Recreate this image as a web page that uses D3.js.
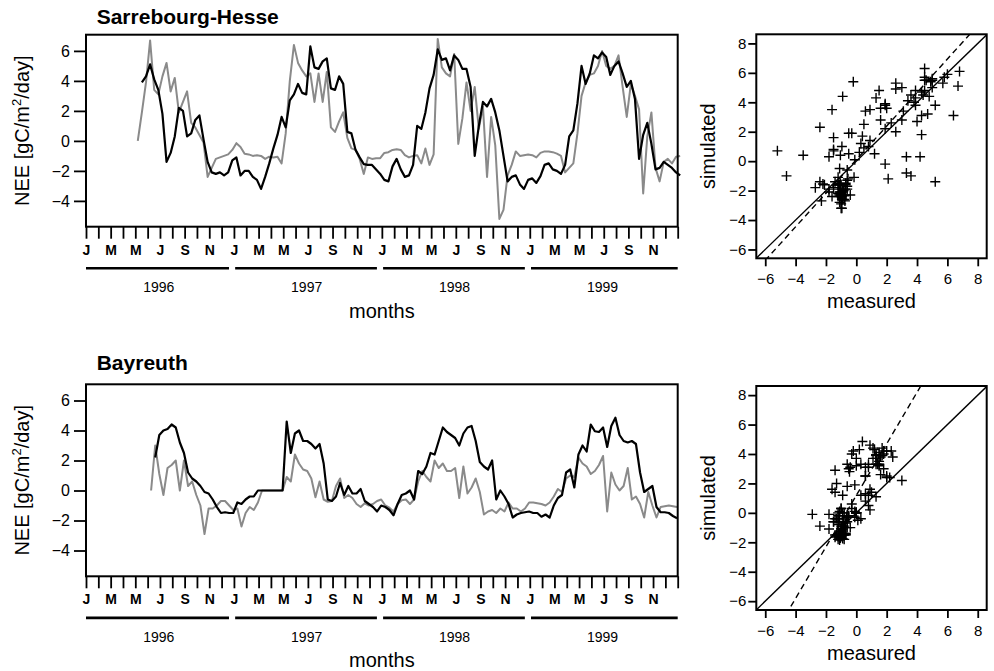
<!DOCTYPE html>
<html>
<head>
<meta charset="utf-8">
<script src="https://cdn.jsdelivr.net/npm/d3@7"></script>
<style>
  body { margin: 0; background: #fff; }
  text { font-family: "Liberation Sans", Arial, Helvetica, sans-serif; fill: #000; }
</style>
</head>
<body>
<svg id="chart" width="994" height="671"></svg>
<script>
// NEE series, one value every 1/3 month, months counted from Jan 1996
const STEP = 1 / 3;

const sarreStart = 4.2;
const sarreMeasured = [0, 1.9, 3.9, 6.7, 3.4, 3.1, 4.3, 5.2, 3.3, 4.2,
  1.9, 2.6, 3.3, 1.2, 0.9, 0.4, -0.1, -2.4, -1.8, -1.2,
  -1.1, -1.0, -0.9, -0.6, -0.15, -0.4, -0.85, -0.9, -1.0, -0.95,
  -1.0, -1.2, -1.05, -1.1, -1.05, -1.5, 0.5, 4.0, 6.4, 5.2,
  4.7, 4.3, 4.5, 2.6, 4.5, 2.6, 4.6, 0.9, 0.6, 1.3,
  1.9, 0.2, -0.5, -0.6, -1.2, -2.2, -1.1, -1.2, -1.15, -1.15,
  -0.8, -0.75, -0.6, -0.55, -0.6, -0.95, -1.1, -1.0, -0.95, -1.5,
  -0.5, -1.6, -0.9, 6.8, 4.9, 4.5, 4.3, 5.8, -0.2, 1.5,
  3.9, 2.0, 3.6, 0.8, 2.3, -2.4, 1.6, -0.3, -5.2, -4.6,
  -2.3, -1.6, -0.7, -1.0, -0.95, -0.9, -0.95, -1.1, -0.8, -0.7,
  -0.7, -0.75, -0.85, -1.0, -2.1, -1.8, -1.5, 0.5, 3.0, 3.9,
  4.4, 4.5, 5.0, 6.0, 5.0, 4.8, 5.0, 5.7, 3.6, 1.6,
  3.8, 3.0, 2.1, -3.5, 0.3, 1.9, -1.8, -2.7, -1.4, -1.2,
  -1.5, -1.05, -1.0];
const sarreSimulated = [null, 3.9, 4.3, 5.1, 4.1, 3.4, 1.8, -1.4, -0.8, 0.3,
  2.2, 2.0, 0.3, 0.5, 1.4, 1.7, 0.1, -1.4, -2.1, -2.2,
  -2.1, -2.3, -2.1, -1.3, -1.1, -2.3, -2.0, -2.0, -2.4, -2.6,
  -3.2, -2.4, -1.5, -0.5, 0.4, 1.6, 0.9, 2.7, 3.1, 3.8,
  3.2, 3.1, 6.3, 4.9, 4.8, 5.3, 5.5, 3.5, 3.4, 4.3,
  3.8, 0.6, 0.5, -0.6, -1.1, -1.55, -1.6, -1.6, -1.9, -2.2,
  -2.6, -2.7, -1.7, -1.2, -1.9, -2.4, -2.3, -1.6, 1.0, 0.8,
  1.9, 3.5, 4.4, 6.1, 5.4, 5.5, 4.7, 5.7, 5.4, 4.8,
  4.8, 3.6, -1.0, 1.0, 2.6, 2.3, 2.8, 1.9, 0.7, -1.0,
  -2.7, -2.4, -2.3, -2.9, -3.2, -2.6, -2.5, -2.8, -2.35, -1.6,
  -1.5, -1.9, -2.0, -2.2, -1.6, 0.3, 0.7, 2.5, 5.0, 3.8,
  4.5, 5.7, 5.5, 5.9, 5.6, 4.4, 5.0, 5.3, 4.5, 3.6,
  4.0, 2.8, -1.2, 0.4, 1.2, -0.2, -1.9, -1.8, -1.4, -1.6,
  -1.8, -2.1, -2.3];

const bayStart = 5.28;
const bayMeasured = [0, 3.0, 1.1, -0.3, 1.5, 1.7, 2.0, 0.0, 2.0, 0.3,
  0.6, -0.3, -1.0, -2.9, -1.2, -1.2, -1.0, -0.7, -0.7, -1.0,
  -1.3, -1.2, -2.4, -1.5, -1.1, -1.3, -0.8, 0, 0, 0,
  0, 0, 0, 0.9, 0.6, 2.4, 1.8, 1.4, 1.3, 0.8,
  -0.45, 0.6, -0.6, -0.75, -0.7, 0.3, 0.8, -0.5, -0.3, -0.5,
  -0.9, -1.1, -0.85, -1.0, -0.9, -0.7, -0.6, -1.0, -1.15, -1.4,
  -0.9, -0.65, -0.6, -0.9, -0.6, 0.6, 1.3, 0.9, 0.6, 2.0,
  1.5, 1.8, 1.3, 1.3, 1.5, -0.5, 1.6, -0.2, 0.2, 0.8,
  -0.1, -1.6, -1.4, -1.3, -1.5, -1.2, -1.4, -0.8, -1.2, -1.2,
  -1.4, -1.2, -0.8, -0.8, -0.85, -0.9, -1.0, -0.8, -0.4, 0.1,
  -0.1, 0.8, 1.0, 0.9, 2.2, 1.8, 1.6, 1.1, 1.3, 1.7,
  2.3, -1.4, 1.2, 0.4, 0.0, 0.3, 1.5, -0.6, -0.4, -0.9,
  -1.8, -0.1, -1.0, -1.8, -1.1, -1.05, -1.0, -1.05, -1.1];
const baySimulated = [null, 2.2, 3.7, 4.0, 4.1, 4.4, 4.2, 3.2, 2.5, 1.2,
  0.8, 0.6, 0.3, -0.1, -0.2, -0.6, -1.1, -1.5, -1.45, -1.5,
  -1.5, -0.8, -0.9, -0.6, -0.4, -0.4, 0, 0, 0, 0,
  0, 0, 0, 4.6, 2.5, 3.8, 4.0, 3.3, 3.3, 3.1,
  2.8, 3.1, 1.8, -0.6, -0.7, -0.4, 0.5, -0.3, 0.3, -0.2,
  -0.2, 0.1, -0.7, -0.9, -1.1, -1.4, -1.0, -1.1, -1.3, -1.65,
  -0.9, -0.3, -0.2, 0.0, -0.6, 1.3, 1.1, 1.6, 2.5, 2.4,
  3.3, 4.2, 3.9, 3.7, 3.5, 3.0, 3.8, 4.2, 4.3, 3.3,
  1.9, 1.6, 1.4, 2.0, -0.6, 0.0, -0.4, -0.9, -1.8, -1.6,
  -1.5, -1.45, -1.4, -1.5, -1.5, -1.75, -1.6, -1.8, -1.0, -0.5,
  -0.3, 1.2, 1.4, 0.2, 2.4, 3.0, 2.6, 4.4, 3.95, 3.9,
  4.2, 2.9, 4.3, 4.85, 3.7, 3.3, 3.2, 3.3, 3.1, 1.2,
  -0.1, 0.1, 0.3, -1.1, -1.45, -1.45, -1.5, -1.7, -1.85];

// fitted line (simulated = a + b * measured), dashed in the scatter plots
const sarreFit = { a: 0.1, b: 1.14 };
const bayFit = { a: 1.19, b: 1.75 };

const monthLetters = ['J', 'F', 'M', 'A', 'M', 'J', 'J', 'A', 'S', 'O', 'N', 'D'];
const years = [1996, 1997, 1998, 1999];
const neeTicks = [-4, -2, 0, 2, 4, 6];
const scatterTicks = [-6, -4, -2, 0, 2, 4, 6, 8];

const svg = d3.select('#chart');

const panels = [
  { title: 'Sarrebourg-Hesse', measured: sarreMeasured, simulated: sarreSimulated,
    start: sarreStart, fit: sarreFit, top: 34.7, scTop: 34.3, titleY: 24 },
  { title: 'Bayreuth', measured: bayMeasured, simulated: baySimulated,
    start: bayStart, fit: bayFit, top: 384.3, scTop: 386, titleY: 369.5 }
];

function styleAxis(g, size) {
  g.select('.domain').remove();
  g.selectAll('line').attr('stroke', '#000').attr('stroke-width', 1.8);
  g.selectAll('text').attr('font-family', null).attr('font-size', size).attr('fill', '#000');
  g.attr('font-family', null).attr('font-size', null);
}

function drawSeries(p, idx) {
  const H = 192;
  const x = d3.scaleLinear().domain([0, 48]).range([86, 677.7]);
  const y = d3.scaleLinear().domain([-5.72, 7.08]).range([p.top + H, p.top]);
  const g = svg.append('g');

  const line = d3.line()
    .defined(d => d != null)
    .x((d, i) => x(p.start + i * STEP))
    .y(d => y(d));

  g.append('path').datum(p.measured).attr('d', line)
    .attr('fill', 'none').attr('stroke', '#8a8a8a').attr('stroke-width', 2).attr('stroke-linejoin', 'round');
  g.append('path').datum(p.simulated).attr('d', line)
    .attr('fill', 'none').attr('stroke', '#000').attr('stroke-width', 2.2).attr('stroke-linejoin', 'round');

  g.append('rect').attr('x', x(0)).attr('y', p.top).attr('width', x(48) - x(0)).attr('height', H)
    .attr('fill', 'none').attr('stroke', '#000').attr('stroke-width', 2);

  const ya = g.append('g').attr('transform', `translate(${x(0)},0)`)
    .call(d3.axisLeft(y).tickValues(neeTicks).tickSize(12).tickPadding(4));
  styleAxis(ya, 16);

  const xa = g.append('g').attr('transform', `translate(0,${p.top + H})`)
    .call(d3.axisBottom(x).tickValues(d3.range(0, 49)).tickSize(12).tickPadding(6)
      .tickFormat(m => (m % 2 === 0 && m < 48) ? monthLetters[m % 12] : ''));
  styleAxis(xa, 14);
  xa.selectAll('text').attr('font-weight', 'bold');

  // year bars under the month letters
  const barY = p.top + H + 41.6;
  g.selectAll('.yearbar').data(years).enter().append('line')
    .attr('x1', (d, i) => x(12 * i + (i === 0 ? 0 : 0.1)))
    .attr('x2', (d, i) => x(12 * i + (i === years.length - 1 ? 12 : 11.6)))
    .attr('y1', barY).attr('y2', barY)
    .attr('stroke', '#000').attr('stroke-width', 2.6);
  g.selectAll('.yearlab').data(years).enter().append('text')
    .attr('x', (d, i) => x(12 * i + 5.9))
    .attr('y', barY + 24)
    .attr('text-anchor', 'middle').attr('font-size', 14)
    .text(d => d);

  g.append('text').attr('x', 96.7).attr('y', p.titleY)
    .attr('font-size', 21).attr('font-weight', 'bold').text(p.title);

  g.append('text').attr('x', (x(0) + x(48)) / 2).attr('y', p.top + H + 91)
    .attr('text-anchor', 'middle').attr('font-size', 20).text('months');

  const yl = g.append('text')
    .attr('transform', `translate(29,${p.top + H / 2}) rotate(-90)`)
    .attr('text-anchor', 'middle').attr('font-size', 20);
  yl.append('tspan').text('NEE [gC/m');
  yl.append('tspan').attr('font-size', 13).attr('dy', -8).text('2');
  yl.append('tspan').attr('dy', 8).text('/day]');
}

function drawScatter(p, idx) {
  const H = 224;
  const x = d3.scaleLinear().domain([-6.59, 8.59]).range([756.3, 986.7]);
  const y = d3.scaleLinear().domain([-6.6, 8.62]).range([p.scTop + H, p.scTop]);
  const g = svg.append('g');
  const clipId = 'clip' + idx;
  g.append('clipPath').attr('id', clipId).append('rect')
    .attr('x', x.range()[0]).attr('y', p.scTop).attr('width', x.range()[1] - x.range()[0]).attr('height', H);

  const pairs = p.measured.map((m, i) => [m, p.simulated[i]])
    .filter(d => d[0] != null && d[1] != null);

  const inner = g.append('g').attr('clip-path', `url(#${clipId})`);
  const lineGen = d3.line().x(d => x(d[0])).y(d => y(d[1]));
  const ends = [-10, 10];
  inner.append('path').datum(ends.map(v => [v, v])).attr('d', lineGen)
    .attr('stroke', '#000').attr('stroke-width', 1.4).attr('fill', 'none');
  inner.append('path').datum(ends.map(v => [v, p.fit.a + p.fit.b * v])).attr('d', lineGen)
    .attr('stroke', '#000').attr('stroke-width', 1.4).attr('fill', 'none').attr('stroke-dasharray', '6,4');

  inner.selectAll('.pt').data(pairs).enter().append('path')
    .attr('d', 'M-5,0H5M0,-5V5')
    .attr('transform', d => `translate(${x(d[0])},${y(d[1])})`)
    .attr('stroke', '#000').attr('stroke-width', 1.4).attr('fill', 'none');

  g.append('rect').attr('x', x.range()[0]).attr('y', p.scTop)
    .attr('width', x.range()[1] - x.range()[0]).attr('height', H)
    .attr('fill', 'none').attr('stroke', '#000').attr('stroke-width', 2);

  const ya = g.append('g').attr('transform', `translate(${x.range()[0]},0)`)
    .call(d3.axisLeft(y).tickValues(scatterTicks).tickSize(8).tickPadding(2));
  styleAxis(ya, 15);
  const xa = g.append('g').attr('transform', `translate(0,${p.scTop + H})`)
    .call(d3.axisBottom(x).tickValues(scatterTicks).tickSize(8).tickPadding(7));
  styleAxis(xa, 15);

  g.append('text').attr('x', (x.range()[0] + x.range()[1]) / 2).attr('y', p.scTop + H + 50)
    .attr('text-anchor', 'middle').attr('font-size', 20).text('measured');
  g.append('text')
    .attr('transform', `translate(715,${p.scTop + H / 2}) rotate(-90)`)
    .attr('text-anchor', 'middle').attr('font-size', 20).text('simulated');
}

panels.forEach((p, i) => { drawSeries(p, i); drawScatter(p, i); });
</script>
</body>
</html>
